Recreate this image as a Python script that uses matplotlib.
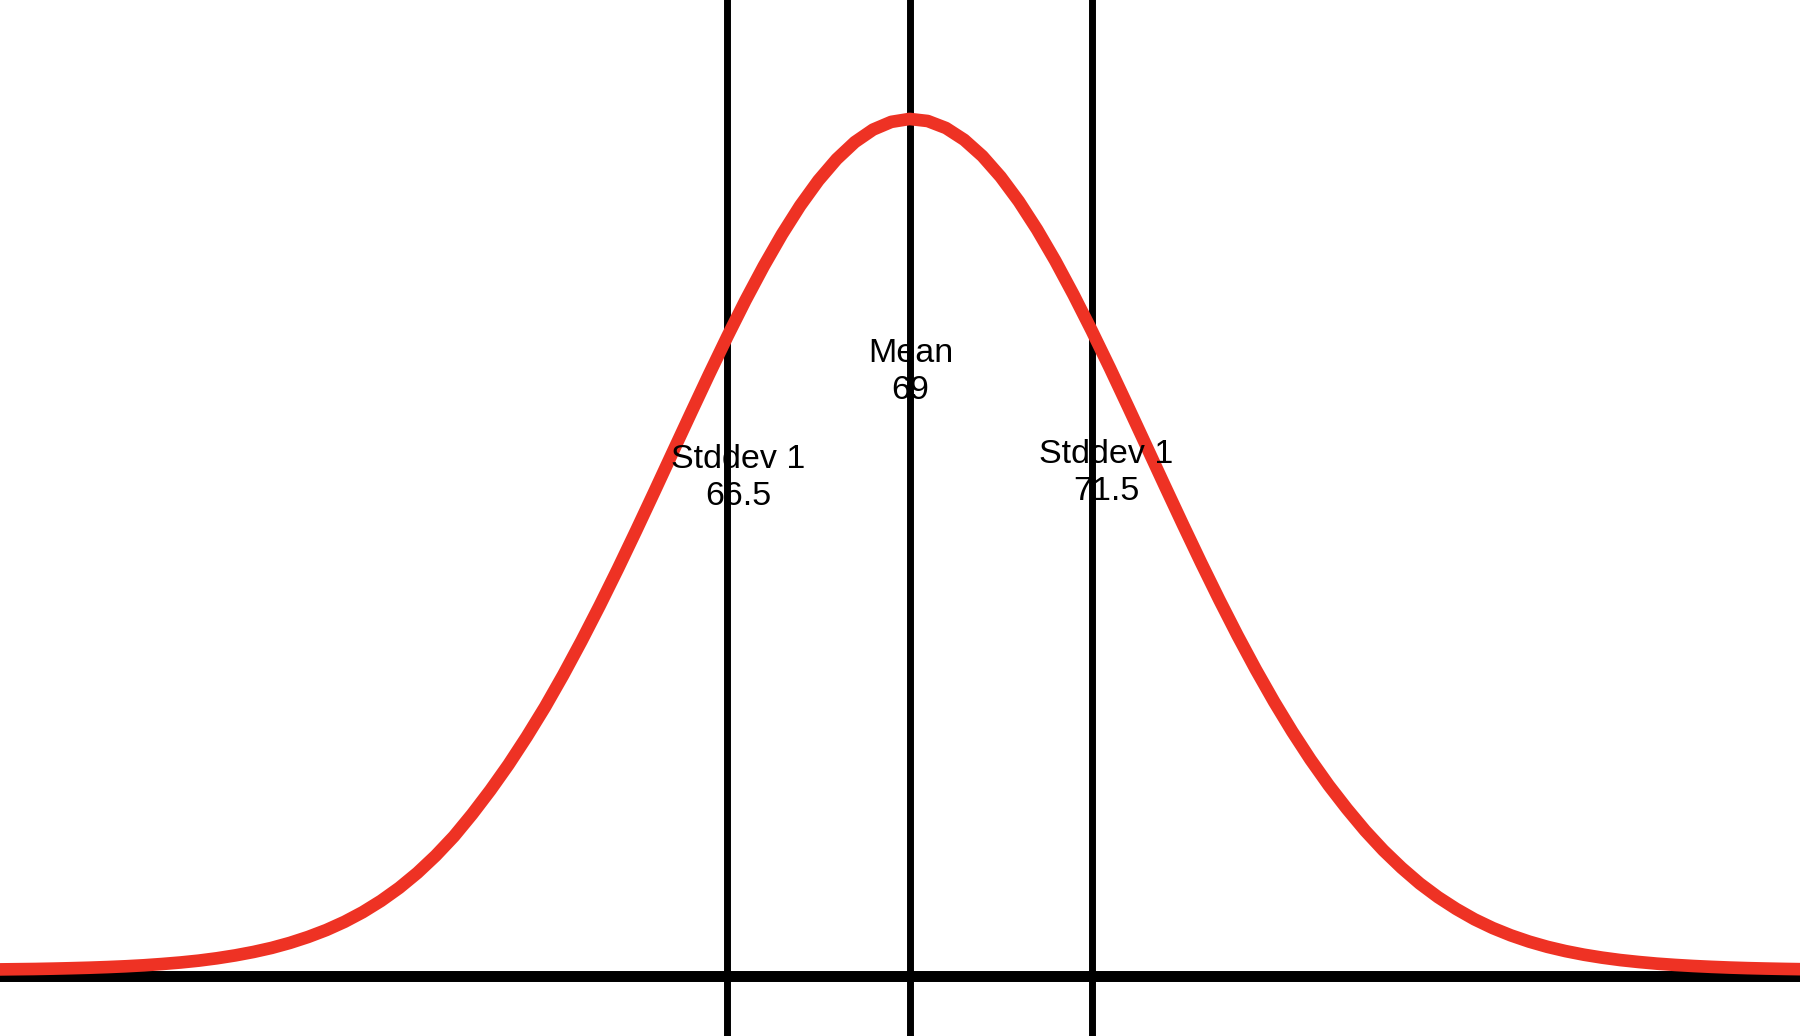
import matplotlib
matplotlib.use("Agg")
import matplotlib.pyplot as plt

plt.rcParams['font.family'] = ['Liberation Sans', 'DejaVu Sans']

# Reference lines
mean_value = 69
stddev_values = [66.5, 71.5]
labels = ["Stddev 1\n66.5", "Mean\n69", "Stddev 1\n71.5"]

# Curve (x in data units, y in density units)
curve_x = [56.50, 56.75, 57.00, 57.25, 57.50, 57.75, 58.00, 58.25, 58.50, 58.75,
           59.00, 59.25, 59.50, 59.75, 60.00, 60.25, 60.50, 60.75, 61.00, 61.25,
           61.50, 61.75, 62.00, 62.25, 62.50, 62.75, 63.00, 63.25, 63.50, 63.75,
           64.00, 64.25, 64.50, 64.75, 65.00, 65.25, 65.50, 65.75, 66.00, 66.25,
           66.50, 66.75, 67.00, 67.25, 67.50, 67.75, 68.00, 68.25, 68.50, 68.75,
           69.00, 69.25, 69.50, 69.75, 70.00, 70.25, 70.50, 70.75, 71.00, 71.25,
           71.50, 71.75, 72.00, 72.25, 72.50, 72.75, 73.00, 73.25, 73.50, 73.75,
           74.00, 74.25, 74.50, 74.75, 75.00, 75.25, 75.50, 75.75, 76.00, 76.25,
           76.50, 76.75, 77.00, 77.25, 77.50, 77.75, 78.00, 78.25, 78.50, 78.75,
           79.00, 79.25, 79.50, 79.75, 80.00, 80.25, 80.50, 80.75, 81.00, 81.25]
curve_y = [0.00099, 0.00102, 0.00105, 0.00110, 0.00116, 0.00123, 0.00132, 0.00143, 0.00157, 0.00175,
           0.00196, 0.00222, 0.00255, 0.00295, 0.00343, 0.00400, 0.00470, 0.00553, 0.00650, 0.00765,
           0.00900, 0.01058, 0.01240, 0.01450, 0.01690, 0.01960, 0.02270, 0.02605, 0.02965, 0.03355,
           0.03770, 0.04218, 0.04692, 0.05188, 0.05704, 0.06237, 0.06781, 0.07331, 0.07879, 0.08422,
           0.08951, 0.09459, 0.09937, 0.10381, 0.10783, 0.11136, 0.11434, 0.11673, 0.11848, 0.11956,
           0.11997, 0.11968, 0.11870, 0.11705, 0.11477, 0.11187, 0.10843, 0.10449, 0.10012, 0.09537,
           0.09034, 0.08509, 0.07967, 0.07418, 0.06868, 0.06323, 0.05788, 0.05269, 0.04770, 0.04295,
           0.03846, 0.03426, 0.03035, 0.02675, 0.02346, 0.02040, 0.01765, 0.01520, 0.01300, 0.01110,
           0.00945, 0.00800, 0.00678, 0.00575, 0.00488, 0.00415, 0.00355, 0.00305, 0.00264, 0.00230,
           0.00203, 0.00180, 0.00162, 0.00147, 0.00135, 0.00125, 0.00117, 0.00111, 0.00106, 0.00102]

# Label positions (layout)
label_x = [66.647, 69.016, 71.695]
label_y = [0.0697, 0.0846, 0.0704]

fig = plt.figure(figsize=(18, 10.36), dpi=100)
ax = fig.add_axes([0, 0, 1, 1])
ax.set_xlim(56.524, 81.215)
ax.set_ylim(-0.008324, 0.13661)
ax.axis('off')

ax.axhline(0, color='black', linewidth=7.9, zorder=1)
ax.axvline(mean_value, color='black', linewidth=5.0, zorder=1)
for s in stddev_values:
    ax.axvline(s, color='black', linewidth=5.0, zorder=1)

ax.plot(curve_x, curve_y, color='#EE3224', linewidth=9.1, zorder=2,
        solid_joinstyle='round', solid_capstyle='butt')

for lx, ly, lab in zip(label_x, label_y, labels):
    ax.text(lx, ly, lab, ha='center', va='center', multialignment='center',
            fontsize=24.5, color='black', zorder=3, linespacing=1.25)

fig.savefig("out.png", dpi=100)
